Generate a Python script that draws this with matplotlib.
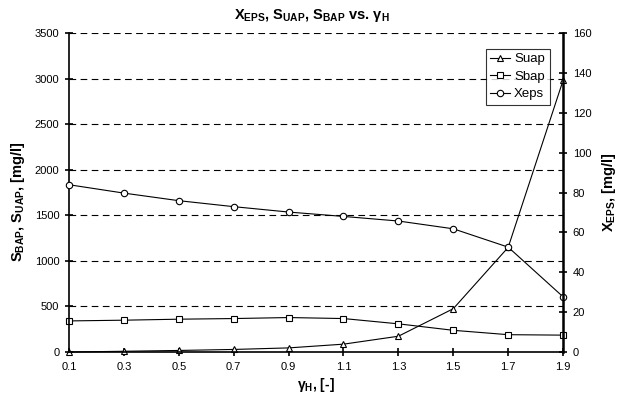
import numpy as np
import matplotlib
matplotlib.use("Agg")
import matplotlib.pyplot as plt

plt.rcParams["font.family"] = ["Liberation Sans", "DejaVu Sans"]
plt.rcParams["mathtext.fontset"] = "custom"
plt.rcParams["mathtext.rm"] = "Liberation Sans:bold"
plt.rcParams["mathtext.it"] = "Liberation Sans:bold"
plt.rcParams["mathtext.bf"] = "Liberation Sans:bold"

gamma_h = [0.1, 0.3, 0.5, 0.7, 0.9, 1.1, 1.3, 1.5, 1.7, 1.9]
suap = [0, 8, 17, 28, 45, 86, 173, 475, 1148, 2980]
sbap = [341, 349, 360, 367, 378, 367, 309, 238, 190, 185]
xeps = [83.9, 79.7, 75.9, 72.9, 70.2, 68.0, 65.7, 61.8, 52.6, 27.7]

fig = plt.figure(figsize=(6.23, 3.94), dpi=100)
ax = fig.add_axes([0.1108, 0.1066, 0.793, 0.8096])
ax2 = ax.twinx()

mk = dict(color="black", lw=0.8, mfc="white", mec="black", mew=0.8)
l1, = ax.plot(gamma_h, suap, marker="^", ms=5, label="Suap", **mk)
l2, = ax.plot(gamma_h, sbap, marker="s", ms=4.3, label="Sbap", **mk)
l3, = ax2.plot(gamma_h, xeps, marker="o", ms=4.6, label="Xeps", **mk)
for l in (l1, l2, l3):
    l.set_clip_on(False)

ax.set_xlim(0.1, 1.9)
ax.set_ylim(0, 3500)
ax2.set_ylim(0, 160)
ax.set_xticks(gamma_h)
ax.set_xticklabels([f"{v:.1f}" for v in gamma_h])
ax.set_yticks(np.arange(0, 3501, 500))
ax2.set_yticks(np.arange(0, 161, 20))

for y in np.arange(500, 3501, 500):
    ax.axhline(y, color="black", lw=0.8, ls=(0, (6, 4)), zorder=0)

for a in (ax, ax2):
    a.spines["top"].set_visible(False)
    a.tick_params(labelsize=8, direction="inout", length=6, width=1.2, pad=4)
ax.spines["left"].set_linewidth(1.2)
ax.spines["bottom"].set_linewidth(1.2)
ax2.spines["right"].set_linewidth(1.8)
ax2.spines["left"].set_visible(False)
ax2.spines["bottom"].set_visible(False)

ax.set_xlabel(r"$γ_H$, [-]", fontsize=10, fontweight="bold", labelpad=3)
ax.set_ylabel(r"$S_{BAP}$, $S_{UAP}$, [mg/l]", fontsize=10.5, fontweight="bold")
ax.yaxis.set_label_coords(-0.085, 0.47)
ax2.set_ylabel(r"$X_{EPS}$, [mg/l]", fontsize=10.5, fontweight="bold", labelpad=6)
fig.text(0.5, 1 - 15 / 394, r"$X_{EPS}$, $S_{UAP}$, $S_{BAP}$ vs. $γ_H$",
         fontsize=10.5, fontweight="bold", ha="center", va="center")

leg = ax2.legend([l1, l2, l3], ["Suap", "Sbap", "Xeps"], loc="upper right",
                 bbox_to_anchor=(0.986, 0.972), fontsize=9.5, frameon=True,
                 fancybox=False, edgecolor="black", handlelength=1.5,
                 handletextpad=0.3, borderpad=0.35, labelspacing=0.4)
leg.get_frame().set_linewidth(0.8)

fig.savefig("out.png", dpi=100)
